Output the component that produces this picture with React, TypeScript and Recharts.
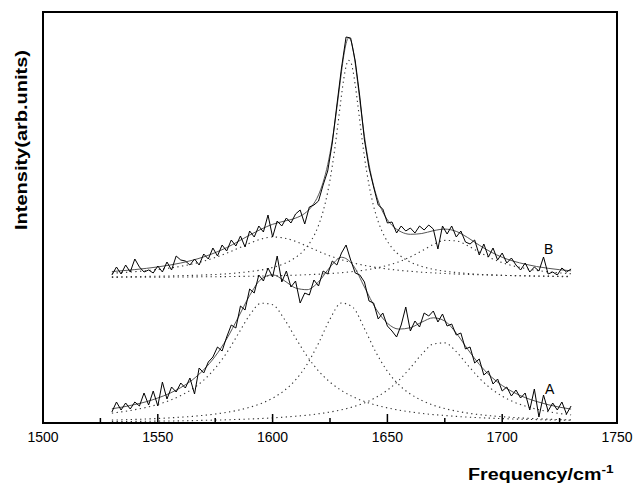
import React from "react";
import { LineChart, Line, XAxis, YAxis, ReferenceArea } from "recharts";

// x grids (cm-1)
const GRID5 = [1530, 1535, 1540, 1545, 1550, 1555, 1560, 1565, 1570, 1575, 1580, 1585, 1590, 1595, 1600, 1605, 1610, 1615, 1620, 1625, 1630, 1635, 1640, 1645, 1650, 1655, 1660, 1665, 1670, 1675, 1680, 1685, 1690, 1695, 1700, 1705, 1710, 1715, 1720, 1725, 1730];
const GRID_B = [1530, 1540, 1550, 1560, 1570, 1580, 1590, 1595, 1600, 1605, 1610, 1614, 1617, 1620, 1622, 1624, 1626, 1628, 1629, 1630, 1631, 1632, 1633, 1634, 1635, 1636, 1637, 1638, 1640, 1642, 1644, 1646, 1649, 1652, 1656, 1660, 1665, 1670, 1675, 1680, 1685, 1690, 1695, 1700, 1710, 1720, 1730];
const GRID2 = [1530, 1532, 1534, 1536, 1538, 1540, 1542, 1544, 1546, 1548, 1550, 1552, 1554, 1556, 1558, 1560, 1562, 1564, 1566, 1568, 1570, 1572, 1574, 1576, 1578, 1580, 1582, 1584, 1586, 1588, 1590, 1592, 1594, 1596, 1598, 1600, 1602, 1604, 1606, 1608, 1610, 1612, 1614, 1616, 1618, 1620, 1622, 1624, 1626, 1628, 1630, 1632, 1634, 1636, 1638, 1640, 1642, 1644, 1646, 1648, 1650, 1652, 1654, 1656, 1658, 1660, 1662, 1664, 1666, 1668, 1670, 1672, 1674, 1676, 1678, 1680, 1682, 1684, 1686, 1688, 1690, 1692, 1694, 1696, 1698, 1700, 1702, 1704, 1706, 1708, 1710, 1712, 1714, 1716, 1718, 1720, 1722, 1724, 1726, 1728, 1730];

// spectrum A: fitted bands (dotted) and envelope
const bandA1 = [9.9, 11.4, 13.3, 15.6, 18.6, 22.4, 27.4, 34.0, 42.9, 54.8, 70.2, 89.0, 107.8, 119.8, 118.3, 104.3, 85.1, 66.9, 52.1, 40.9, 32.5, 26.2, 21.5, 17.9, 15.1, 12.9, 11.1, 9.6, 8.4, 7.5, 6.6, 5.9, 5.3, 4.8, 4.4, 4.0, 3.7, 3.4, 3.1, 2.9, 2.7];
const bandA2 = [2.9, 3.2, 3.6, 4.0, 4.5, 5.1, 5.8, 6.6, 7.7, 9.0, 10.7, 12.8, 15.7, 19.5, 24.8, 32.3, 43.1, 58.6, 79.8, 103.9, 120.0, 115.5, 94.4, 70.7, 51.8, 38.3, 29.0, 22.5, 17.8, 14.4, 11.9, 9.9, 8.4, 7.2, 6.3, 5.5, 4.8, 4.3, 3.8, 3.4, 3.1];
const bandA3 = [1.4, 1.5, 1.6, 1.7, 1.9, 2.0, 2.2, 2.4, 2.7, 2.9, 3.2, 3.6, 4.0, 4.5, 5.1, 5.9, 6.8, 7.8, 9.2, 11.0, 13.2, 16.2, 20.1, 25.6, 32.9, 42.7, 55.2, 68.8, 79.0, 80.1, 71.3, 57.9, 45.0, 34.6, 26.8, 21.1, 16.9, 13.8, 11.4, 9.5, 8.1];
const fitA = [14.2, 16.1, 18.5, 21.3, 25.0, 29.5, 35.4, 43.0, 53.3, 66.7, 84.1, 105.4, 127.5, 143.8, 148.2, 142.5, 135.0, 133.3, 141.1, 155.8, 165.7, 157.9, 136.0, 114.2, 99.8, 93.9, 95.3, 100.9, 105.2, 102.0, 89.8, 73.7, 58.7, 46.6, 37.5, 30.6, 25.4, 21.5, 18.3, 15.8, 13.9];
const rawA = [
  11, 21, 13, 20, 14, 21, 17, 30, 18, 32,
  17, 41, 24, 36, 31, 40, 35, 45, 29, 55,
  50, 61, 66, 76, 72, 86, 98, 95, 117, 113,
  134, 130, 148, 142, 155, 146, 167, 141, 152, 136,
  142, 120, 130, 128, 143, 137, 152, 149, 162, 158,
  170, 178, 163, 150, 148, 141, 122, 120, 104, 110,
  97, 92, 86, 98, 116, 92, 102, 96, 110, 107,
  112, 101, 109, 97, 99, 88, 90, 74, 76, 60,
  64, 48, 52, 39, 44, 32, 36, 27, 33, 25,
  30, 13, 34, 6, 28, 12, 20, 13, 21, 9,
  17,
];

// spectrum B (offset upward)
const bandB1 = [149.8, 150.5, 151.3, 152.3, 153.5, 154.9, 156.7, 159.0, 161.9, 165.5, 169.8, 174.7, 179.8, 183.9, 186.0, 185.0, 181.6, 176.8, 171.7, 167.1, 163.3, 160.1, 157.6, 155.6, 154.0, 152.7, 151.7, 150.8, 150.1, 149.5, 149.0, 148.6, 148.2, 147.9, 147.6, 147.4, 147.2, 147.0, 146.9, 146.7, 146.6];
const bandB3 = [145.6, 145.7, 145.7, 145.8, 145.8, 145.9, 146.0, 146.1, 146.2, 146.3, 146.4, 146.6, 146.7, 146.9, 147.2, 147.5, 147.8, 148.3, 148.8, 149.5, 150.3, 151.5, 152.9, 154.9, 157.6, 161.2, 166.1, 172.1, 178.5, 182.6, 182.1, 177.3, 170.9, 165.0, 160.4, 157.0, 154.5, 152.6, 151.2, 150.1, 149.3];
const bandB2 = [146.1, 146.4, 146.8, 147.3, 148.0, 149.2, 151.4, 153.0, 155.5, 159.3, 165.5, 173.6, 183.1, 197.6, 211.7, 230.9, 257.0, 290.4, 309.0, 327.6, 344.3, 356.6, 362.7, 361.1, 352.3, 338.0, 320.4, 301.5, 266.2, 237.9, 216.8, 201.4, 185.5, 175.2, 166.5, 160.9, 156.6, 153.7, 151.8, 150.5, 149.5, 148.7, 148.2, 147.7, 147.1, 146.6, 146.3];
const fitB = [151.5, 153.4, 156.1, 160.0, 166.1, 175.4, 187.9, 193.8, 198.7, 201.8, 204.9, 209.6, 216.4, 228.1, 240.7, 258.3, 283.0, 315.2, 333.1, 351.2, 367.4, 379.4, 385.0, 383.1, 373.9, 359.4, 341.5, 322.4, 286.7, 258.4, 237.3, 222.0, 206.8, 197.7, 191.1, 188.7, 189.5, 192.3, 193.9, 191.6, 185.4, 177.8, 171.1, 165.7, 158.8, 154.7, 152.2];
const rawB = [
  148, 156, 149, 158, 151, 164, 156, 151, 153, 150,
  157, 151, 161, 153, 167, 163, 162, 158, 164, 158,
  169, 164, 175, 167, 178, 172, 183, 177, 187, 176,
  192, 186, 197, 191, 208, 186, 202, 197, 205, 200,
  209, 213, 199, 216, 218, 222, 238, 252, 280, 318,
  355, 386, 385, 362, 326, 283, 255, 236, 218, 214,
  200, 201, 190, 197, 192, 195, 190, 197, 193, 198,
  194, 174, 197, 189, 197, 186, 192, 181, 179, 183,
  168, 179, 166, 175, 163, 170, 160, 165, 158, 153,
  160, 151, 156, 152, 166, 149, 151, 148, 155, 151,
  154,
];

const xTicks = [1500, 1525, 1550, 1575, 1600, 1625, 1650, 1675, 1700, 1725, 1750];

const pts = (xs: number[], ys: number[]) => xs.map((x, i) => ({ x, y: ys[i] }));

const font = "'Liberation Sans', Arial, sans-serif";

function FreqTick(props: any) {
  const { x, y, payload } = props;
  const major = payload.value % 50 === 0;
  return (
    <g>
      <line x1={x} x2={x} y1={y} y2={y - (major ? 9 : 5)} stroke="#000" strokeWidth={1.5} />
      {major && (
        <text x={x} y={y + 19} textAnchor="middle" fontSize={14} fill="#000" fontFamily={font}>
          {payload.value}
        </text>
      )}
    </g>
  );
}

const dotted = { stroke: "#333", strokeWidth: 1.1, strokeDasharray: "1.3 3.4", dot: false, isAnimationActive: false, type: "monotone" as const };

export default function App() {
  return (
    <div style={{ position: "absolute", left: 0, top: 0, width: 634, height: 485, background: "#fff", fontFamily: font }}>
      <LineChart width={634} height={485} margin={{ top: 12, right: 17, bottom: 42, left: 43 }}>
        <XAxis
          dataKey="x"
          type="number"
          domain={[1500, 1750]}
          ticks={xTicks}
          interval={0}
          allowDataOverflow
          axisLine={false}
          tickLine={false}
          tickSize={0}
          tickMargin={0}
          height={20}
          tick={<FreqTick />}
        />
        <YAxis hide type="number" domain={[0, 411]} allowDataOverflow />
        <ReferenceArea x1={1500} x2={1750} y1={0} y2={411} fill="none" stroke="#000" strokeWidth={2} ifOverflow="visible" />

        <Line data={pts(GRID5, bandA1)} dataKey="y" {...dotted} />
        <Line data={pts(GRID5, bandA2)} dataKey="y" {...dotted} />
        <Line data={pts(GRID5, bandA3)} dataKey="y" {...dotted} />
        <Line data={pts(GRID5, bandB1)} dataKey="y" {...dotted} />
        <Line data={pts(GRID_B, bandB2)} dataKey="y" {...dotted} />
        <Line data={pts(GRID5, bandB3)} dataKey="y" {...dotted} />

        <Line data={pts(GRID5, fitA)} dataKey="y" type="monotone" stroke="#555" strokeWidth={1} dot={false} isAnimationActive={false} />
        <Line data={pts(GRID_B, fitB)} dataKey="y" type="monotone" stroke="#555" strokeWidth={1} dot={false} isAnimationActive={false} />

        <Line data={pts(GRID2, rawA)} dataKey="y" type="linear" stroke="#000" strokeWidth={1} dot={false} isAnimationActive={false} />
        <Line data={pts(GRID2, rawB)} dataKey="y" type="linear" stroke="#000" strokeWidth={1} dot={false} isAnimationActive={false} />
      </LineChart>

      <div
        style={{
          position: "absolute",
          left: 22 - 100,
          top: 140 - 10,
          width: 200,
          height: 20,
          lineHeight: "20px",
          textAlign: "center",
          fontSize: 16,
          fontWeight: "bold",
          transform: "rotate(-90deg) scaleX(1.25)",
          whiteSpace: "nowrap",
        }}
      >
        Intensity(arb.units)
      </div>

      <div
        style={{
          position: "absolute",
          left: 468,
          top: 467,
          lineHeight: "16px",
          fontSize: 16,
          fontWeight: "bold",
          transform: "scaleX(1.23)",
          transformOrigin: "left",
          whiteSpace: "nowrap",
        }}
      >
        Frequency/cm<span style={{ fontSize: 11, position: "relative", top: -7 }}>-1</span>
      </div>

      <div style={{ position: "absolute", left: 544, top: 241, fontSize: 14, lineHeight: "16px" }}>B</div>
      <div style={{ position: "absolute", left: 545, top: 381, fontSize: 14, lineHeight: "16px" }}>A</div>
    </div>
  );
}
